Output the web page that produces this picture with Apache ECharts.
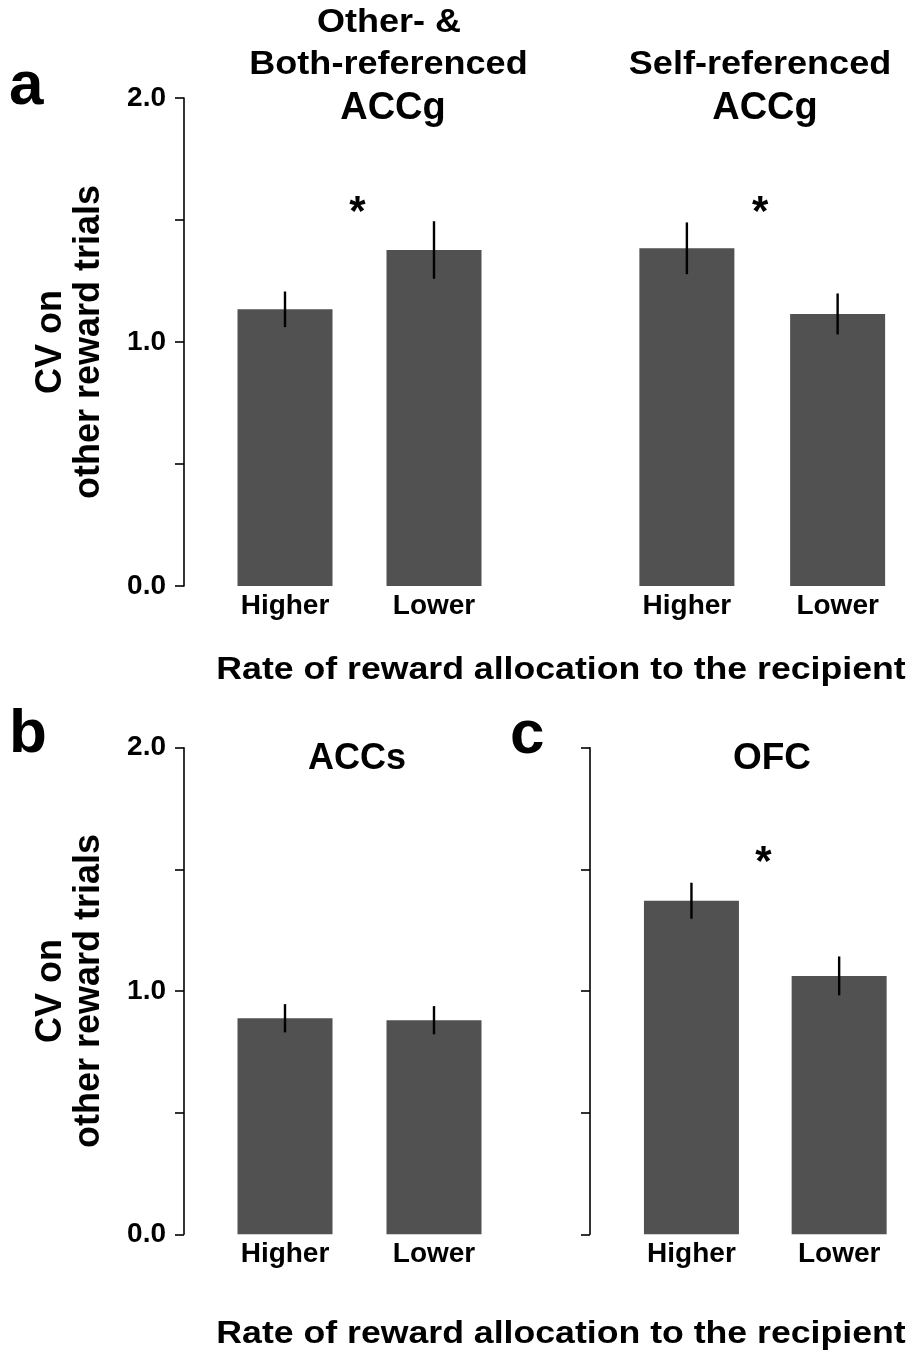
<!DOCTYPE html>
<html>
<head>
<meta charset="utf-8">
<script src="https://cdn.jsdelivr.net/npm/echarts@6/dist/echarts.min.js"></script>
<style>
html,body{margin:0;padding:0;background:#fff;}
#chart{width:913px;height:1355px;}
</style>
</head>
<body>
<div id="chart"></div>
<script>
// ---------- data ----------
const categories = ['Higher', 'Lower'];
const yTickLabels = ['0.0', '', '1.0', '', '2.0'];
const yTickValues = [0, 0.5, 1.0, 1.5, 2.0];

const accgOtherBothMean = [1.134, 1.377];
const accgOtherBothErr  = [0.073, 0.118];
const accgSelfMean      = [1.384, 1.115];
const accgSelfErr       = [0.106, 0.084];
const accsMean          = [0.888, 0.880];
const accsErr           = [0.058, 0.058];
const ofcMean           = [1.371, 1.062];
const ofcErr            = [0.074, 0.080];

// significance marker levels (asterisk between the two bars)
const starAccgOtherBoth = 1.555;
const starAccgSelf      = 1.555;
const starOfc           = 1.552;

const panelTitles = {
  a1: ['Other- &', 'Both-referenced', 'ACCg'],
  a2: ['Self-referenced', 'ACCg'],
  b: 'ACCs',
  c: 'OFC'
};
const yName = 'CV on\nother reward trials';
const xName = 'Rate of reward allocation to the recipient';

// ---------- style ----------
const FONT = '"Liberation Sans", Arial, sans-serif';
const BAR_COLOR = '#505150';

function yAxisCfg(gridIndex, opts) {
  return {
    type: 'value', gridIndex: gridIndex, min: 0, max: 2, interval: 0.5,
    offset: opts.offset || 0,
    show: opts.show !== false,
    axisLine: {show: true, lineStyle: {color: '#000', width: 1.6}},
    axisTick: {show: true, length: 9, lineStyle: {color: '#000', width: 1.6}},
    splitLine: {show: false},
    axisLabel: {
      show: !!opts.labels, margin: 18, color: '#000',
      fontFamily: FONT, fontWeight: 'bold', fontSize: 28,
      formatter: function (v) { return yTickLabels[yTickValues.indexOf(v)] || ''; }
    },
    name: opts.name || '',
    nameLocation: 'middle', nameRotate: 90, nameGap: opts.nameGap || 0,
    nameTextStyle: {fontFamily: FONT, fontWeight: 'bold', fontSize: 36, lineHeight: 38, color: '#000'}
  };
}
function xAxisCfg(gridIndex) {
  return {
    type: 'category', gridIndex: gridIndex, data: categories,
    axisLine: {show: false}, axisTick: {show: false},
    axisLabel: {margin: 6, color: '#000', fontFamily: FONT, fontWeight: 'bold', fontSize: 28}
  };
}
function barSeries(i, data) {
  return {type: 'bar', xAxisIndex: i, yAxisIndex: i, data: data, barWidth: 95,
    itemStyle: {color: BAR_COLOR}, silent: true, z: 2};
}
function errSeries(i, mean, err) {
  return {
    type: 'custom', xAxisIndex: i, yAxisIndex: i, z: 5, silent: true,
    data: mean.map(function (m, k) { return [k, m, err[k]]; }),
    renderItem: function (params, api) {
      const c = api.value(0), m = api.value(1), e = api.value(2);
      const p1 = api.coord([c, m + e]);
      const p2 = api.coord([c, m - e]);
      return {type: 'line', shape: {x1: p1[0], y1: p1[1], x2: p2[0], y2: p2[1]},
        style: {stroke: '#000', lineWidth: 2.4}};
    }
  };
}
function starSeries(i, level) {
  return {
    type: 'custom', xAxisIndex: i, yAxisIndex: i, z: 5, silent: true,
    data: [[0, level]],
    renderItem: function (params, api) {
      const v = api.value(1);
      const a = api.coord([0, v]), b = api.coord([1, v]);
      return {type: 'text', x: (a[0] + b[0]) / 2 - 2, y: a[1] + 7,
        style: {text: '*', font: 'bold 42px ' + FONT, fill: '#000',
          textAlign: 'center', textVerticalAlign: 'middle'}};
    }
  };
}
function txt(text, x, y, size, sx, align) {
  return {type: 'text', x: x, y: y, scaleX: sx || 1, silent: true,
    style: {text: text, font: 'bold ' + size + 'px ' + FONT, fill: '#000',
      textAlign: align || 'center', textVerticalAlign: 'middle'}};
}

const option = {
  animation: false,
  backgroundColor: '#fff',
  grid: [
    {left: 210.5, top: 98, width: 298, height: 488},
    {left: 611.5, top: 98, width: 306, height: 488},
    {left: 210.5, top: 747.7, width: 298, height: 486.6},
    {left: 617.6, top: 747.7, width: 301.6, height: 486.6}
  ],
  xAxis: [xAxisCfg(0), xAxisCfg(1), xAxisCfg(2), xAxisCfg(3)],
  yAxis: [
    yAxisCfg(0, {offset: 26.5, labels: true, name: yName, nameGap: 76}),
    yAxisCfg(1, {show: false}),
    yAxisCfg(2, {offset: 26.5, labels: true, name: yName, nameGap: 76}),
    yAxisCfg(3, {offset: 27.6, labels: false})
  ],
  series: [
    barSeries(0, accgOtherBothMean), errSeries(0, accgOtherBothMean, accgOtherBothErr), starSeries(0, starAccgOtherBoth),
    barSeries(1, accgSelfMean), errSeries(1, accgSelfMean, accgSelfErr), starSeries(1, starAccgSelf),
    barSeries(2, accsMean), errSeries(2, accsMean, accsErr),
    barSeries(3, ofcMean), errSeries(3, ofcMean, ofcErr), starSeries(3, starOfc)
  ],
  graphic: [
    txt('a', 9, 87, 62, 1, 'left'),
    txt('b', 9, 735, 62, 1, 'left'),
    txt('c', 510, 736, 62, 1, 'left'),
    txt(panelTitles.a1[0], 389, 23, 34, 1.06),
    txt(panelTitles.a1[1], 388.5, 64.5, 34, 1.06),
    txt(panelTitles.a1[2], 393, 109, 38, 1),
    txt(panelTitles.a2[0], 760, 64.8, 34, 1.06),
    txt(panelTitles.a2[1], 765, 109, 38, 1),
    txt(panelTitles.b, 357, 758.8, 36, 1),
    txt(panelTitles.c, 772, 758.5, 37, 1),
    txt(xName, 561, 670, 31, 1.15),
    txt(xName, 561, 1334, 31, 1.15)
  ]
};

const chart = echarts.init(document.getElementById('chart'), null, {renderer: 'canvas'});
chart.setOption(option);
</script>
</body>
</html>
